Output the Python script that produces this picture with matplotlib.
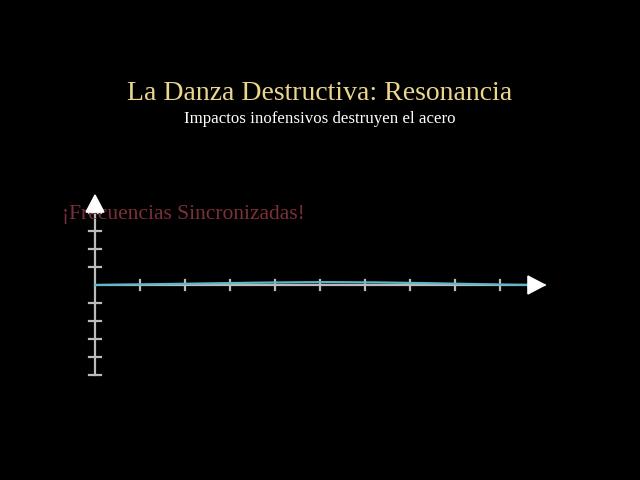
import numpy as np
import matplotlib
matplotlib.use("Agg")
import matplotlib.pyplot as plt

# =====================================================
# data (axis units: 1 x-unit = one tick, 1 y-unit = one tick)
# =====================================================
title = "La Danza Destructiva: Resonancia"
subtitle = "Impactos inofensivos destruyen el acero"
label = "¡Frecuencias Sincronizadas!"

x_ticks = [1, 2, 3, 4, 5, 6, 7, 8, 9]
y_ticks = [-5, -4, -3, -2, -1, 1, 2, 3, 4]
wave_x = [0, 1, 2, 3, 4, 5, 6, 7, 8, 9, 10]
wave_y = [0.0, 0.03, 0.07, 0.11, 0.14, 0.16, 0.15, 0.12, 0.07, 0.02, 0.0]

x_max = 10
y_min, y_max = -5, 5

# =====================================================
# figure
# =====================================================
fig = plt.figure(figsize=(6.4, 4.8), dpi=100, facecolor="black")
ax = fig.add_axes([0, 0, 1, 1])
ax.set_facecolor("black")
ax.set_xlim(-95 / 45, 545 / 45)
ax.set_ylim(-195 / 18, 285 / 18)
ax.axis("off")

axis_col = "#bbbbbb"

# axes lines
ax.plot([0, x_max - 0.3], [0, 0], color=axis_col, lw=1.6, zorder=2)
ax.plot([0, 0], [y_min, y_max - 0.6], color=axis_col, lw=1.6, zorder=2)

# ticks
for t in x_ticks:
    ax.plot([t, t], [-0.3, 0.3], color=axis_col, lw=1.6, zorder=2)
for t in y_ticks:
    ax.plot([-0.14, 0.14], [t, t], color=axis_col, lw=1.6, zorder=2)

# arrow heads
ax.fill([x_max, x_max - 0.38, x_max - 0.38], [0, 0.5, -0.5], color="white", zorder=5)
ax.fill([0, -0.2, 0.2], [y_max, y_max - 0.95, y_max - 0.95], color="white", zorder=5)

# wave
xs = np.array(wave_x)
ys = np.array(wave_y)
xf = np.linspace(xs.min(), xs.max(), 200)
ax.plot(xf, np.interp(xf, xs, ys), color="#5fb8c8", lw=1.6, zorder=3)

# texts
fig.text(0.5, 1 - 94 / 480, title, ha="center", va="center",
         family="Liberation Serif", fontsize=20, color="#ecd68c")
fig.text(0.5, 1 - 119 / 480, subtitle, ha="center", va="center",
         family="Liberation Serif", fontsize=12.2, color="white")
ax.text(-33 / 45, 70 / 18, label, ha="left", va="center",
        family="Liberation Serif", fontsize=15.5, color="#7a3038", zorder=4)

fig.savefig("out.png", dpi=100, facecolor="black")
